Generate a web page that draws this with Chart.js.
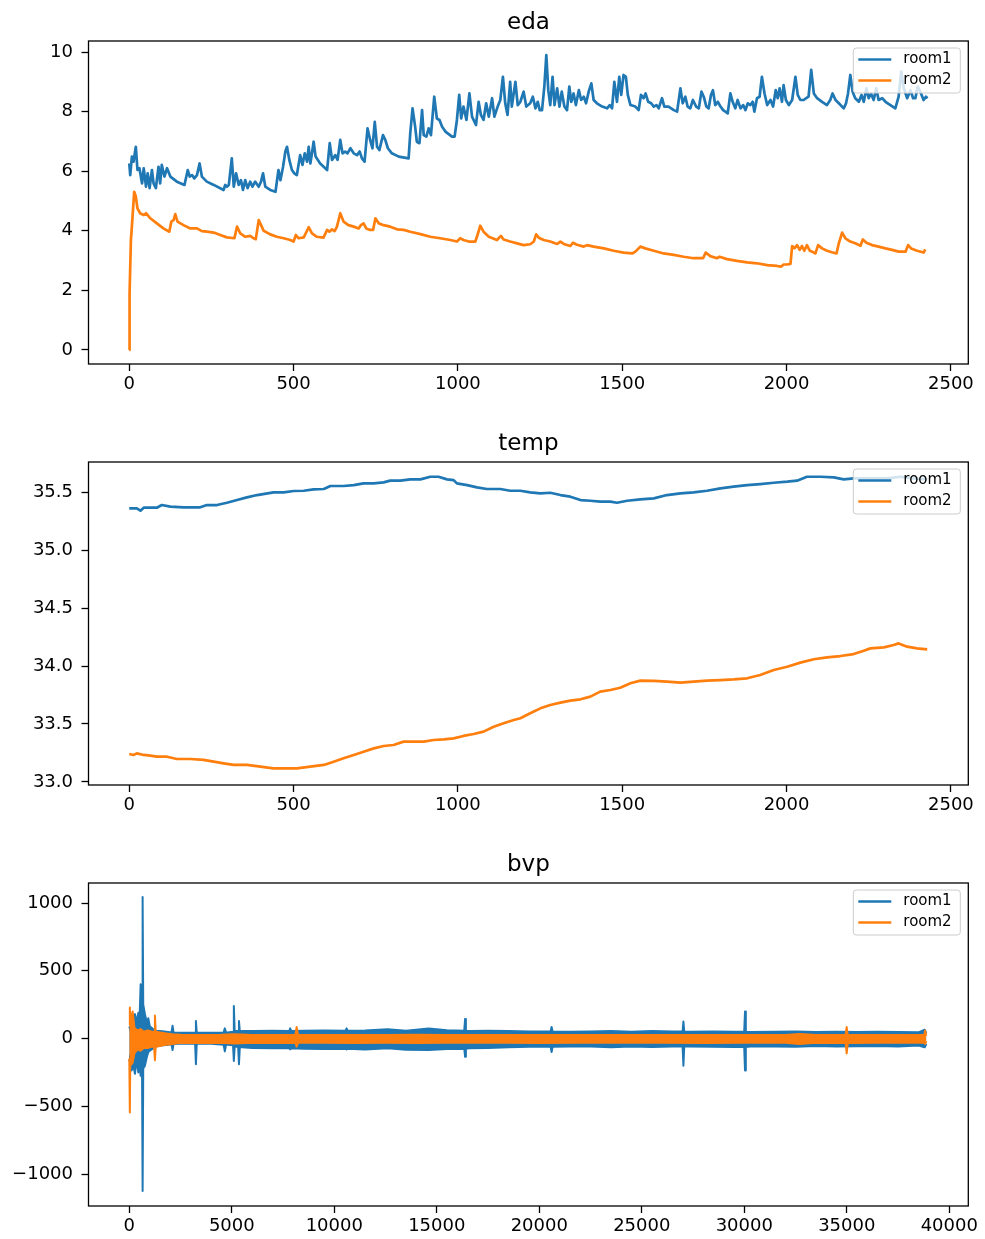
<!DOCTYPE html>
<html><head><meta charset="utf-8">
<script src="https://cdn.jsdelivr.net/npm/chart.js@4.4.1/dist/chart.umd.min.js"></script>
<style>
html,body{margin:0;padding:0;background:#fff;width:985px;height:1239px;overflow:hidden}
.box{position:absolute;left:0;width:985px;height:397px}
</style></head><body>
<div class="box" style="top:0"><canvas id="c1" width="985" height="397"></canvas></div>
<div class="box" style="top:421px"><canvas id="c2" width="985" height="397"></canvas></div>
<div class="box" style="top:842px"><canvas id="c3" width="985" height="397"></canvas></div>
<script>
// ---------------- data ----------------
const seriesNames = ['room1', 'room2'];
const chartTitles = ['eda', 'temp', 'bvp'];

const timeTicks = [0, 500, 1000, 1500, 2000, 2500];
const timeTickLabels = ['0', '500', '1000', '1500', '2000', '2500'];
const bvpTimeTicks = [0, 5000, 10000, 15000, 20000, 25000, 30000, 35000, 40000];
const bvpTimeTickLabels = ['0', '5000', '10000', '15000', '20000', '25000', '30000', '35000', '40000'];
const edaTicks = [0, 2, 4, 6, 8, 10];
const edaTickLabels = ['0', '2', '4', '6', '8', '10'];
const tempTicks = [33.0, 33.5, 34.0, 34.5, 35.0, 35.5];
const tempTickLabels = ['33.0', '33.5', '34.0', '34.5', '35.0', '35.5'];
const bvpTicks = [-1000, -500, 0, 500, 1000];
const bvpTickLabels = ['\u22121000', '\u2212500', '0', '500', '1000'];

// eda room1
const edaRoom1X = [0,3,8,13,20,25,31,39,44,51,56,62,69,74,81,89,94,99,107,115,125,145,168,178,184,191,198,206,214,221,236,257,287,292,297,303,312,318,325,333,340,346,353,360,368,375,383,394,401,407,414,429,445,454,460,468,475,480,487,495,502,510,520,527,534,541,546,551,556,561,567,581,602,610,617,627,634,642,649,657,664,673,683,693,701,708,716,725,733,740,747,754,761,772,779,787,799,820,850,855,862,870,875,883,891,896,904,911,918,928,936,944,952,962,982,990,997,1004,1010,1017,1026,1035,1043,1055,1063,1070,1078,1086,1094,1104,1111,1121,1129,1137,1144,1151,1159,1164,1175,1182,1190,1200,1208,1220,
1228,1236,1243,1249,1256,1263,1269,1275,1281,1288,1294,1302,1309,1316,1324,1332,1339,1345,1352,1359,1368,1375,1383,1390,1398,1406,1413,1423,1439,1454,1462,1469,1476,1484,1491,1497,1504,1511,1517,1525,1540,1550,1557,1565,1571,1579,1588,1596,1604,1611,1621,1628,1641,1657,1667,1677,1684,1692,1699,1707,1715,1725,1733,1741,1748,1756,1763,1770,1776,1783,1791,1799,1807,1814,1821,1829,1836,1844,1851,1860,1868,1875,1882,1890,1897,1902,1910,1918,1925,1933,1941,1951,1959,1967,1973,1979,1986,1991,1998,2007,2017,2027,2034,2042,2052,2060,2067,2075,2083,2093,2108,2123,2133,2140,2149,2159,2174,2181,2187,2194,2201,2209,2220,2228,2235,2243,2250,2257,2265,2273,2280,2291,2301,2316,2331,2341,2349,2357,2367,2377,2385,2392,2399,2407,2417,2424,2429];
const edaRoom1Y = [6.26,5.87,6.49,6.32,6.82,6.04,6.10,5.59,6.10,5.48,5.93,5.43,6.04,5.59,5.43,6.15,5.59,6.21,5.82,6.10,5.82,5.65,5.54,6.04,5.82,5.87,5.76,5.87,6.26,5.82,5.65,5.54,5.37,5.54,5.48,5.54,6.43,5.48,5.93,5.54,5.70,5.37,5.70,5.43,5.65,5.48,5.65,5.48,5.65,5.93,5.48,5.37,5.31,6.04,5.70,6.15,6.66,6.82,6.38,6.04,5.93,5.87,6.54,6.21,6.60,6.32,6.82,6.26,6.60,6.99,6.49,6.26,6.04,6.94,6.38,6.54,6.38,7.05,6.60,6.66,6.60,6.77,6.60,6.54,6.66,6.43,6.32,7.44,7.05,6.77,7.66,6.82,6.71,7.21,7.05,6.77,6.60,6.49,6.43,7.27,8.11,7.49,6.99,6.94,8.05,7.21,7.16,7.44,7.21,8.50,7.77,7.72,7.49,7.33,7.16,7.16,7.72,8.56,7.77,8.17,7.72,8.61,7.83,7.55,8.33,7.89,7.72,8.28,7.83,8.45,7.83,8.17,8.39,9.17,8.28,7.89,9.00,8.17,9.00,8.22,8.33,8.67,8.17,8.28,
8.50,8.11,8.33,8.05,8.05,8.84,9.90,8.72,8.22,9.17,8.22,8.78,8.17,8.67,8.17,8.05,8.84,8.33,8.61,8.22,8.72,8.39,8.50,8.28,8.67,8.95,8.39,8.28,8.17,8.11,8.22,8.11,9.00,8.33,9.17,8.56,9.23,9.17,8.56,8.22,8.17,8.05,8.56,8.45,8.61,8.33,8.28,8.17,8.22,8.11,8.45,8.17,8.17,8.05,8.00,8.78,8.28,8.50,8.17,8.11,8.39,8.17,8.11,8.67,8.50,8.17,8.11,8.56,8.72,8.22,8.33,8.17,8.05,8.00,7.94,8.61,8.33,8.11,8.39,8.11,8.22,8.05,8.28,8.22,8.33,8.00,8.45,8.50,9.17,8.61,8.22,8.39,8.17,8.72,8.45,8.78,8.33,8.89,8.39,8.22,8.39,9.17,8.56,8.39,8.39,8.45,8.50,9.40,8.61,8.45,8.33,8.22,8.39,8.61,8.39,8.28,8.11,8.28,8.61,9.23,8.67,8.45,8.33,8.56,8.33,8.78,8.45,8.61,8.39,8.78,8.39,8.45,8.33,8.22,8.11,8.50,9.34,8.78,8.45,8.72,8.45,8.45,8.84,8.67,8.39,8.50,8.45];

// eda room2
const edaRoom2X = [0,1,5,10,15,20,25,33,44,51,64,84,104,122,128,135,140,147,165,186,206,221,236,257,277,297,320,328,338,353,368,378,385,394,401,409,429,449,470,490,500,507,515,531,546,556,571,591,602,609,617,625,632,642,652,667,683,698,705,713,721,733,742,749,759,774,794,815,835,855,886,916,946,977,997,1007,1017,1033,1053,1058,1068,1078,1094,1119,1131,1139,1159,1180,1200,1220,
1231,1238,1246,1261,1281,1302,1312,1322,1342,1350,1362,1383,1393,1413,1444,1474,1504,1530,1540,1555,1570,1596,1626,1657,1687,1717,1746,1754,1768,1788,1796,1819,1849,1880,1910,1941,1971,1984,1991,2002,2012,2017,2024,2032,2040,2047,2054,2062,2071,2078,2088,2096,2108,2123,2138,2152,2159,2169,2179,2194,2209,2225,2232,2243,2260,2280,2301,2321,2341,2362,2370,2379,2397,2417,2422];
const edaRoom2Y = [0.00,1.90,3.69,4.47,5.31,5.15,4.75,4.59,4.53,4.59,4.42,4.25,4.08,3.97,4.31,4.36,4.56,4.31,4.19,4.08,4.08,3.99,3.97,3.94,3.86,3.78,3.75,4.14,3.91,3.80,3.83,3.75,3.72,4.36,4.19,4.00,3.88,3.80,3.75,3.69,3.64,3.86,3.75,3.78,4.12,3.91,3.80,3.77,4.03,3.97,4.05,3.99,4.14,4.59,4.31,4.19,4.14,4.08,4.19,4.25,4.08,4.03,4.03,4.42,4.25,4.19,4.14,4.05,4.03,3.97,3.89,3.80,3.75,3.69,3.64,3.75,3.69,3.64,3.64,3.80,4.17,3.97,3.80,3.69,3.83,3.71,3.64,3.58,3.52,3.55,
3.64,3.88,3.77,3.69,3.64,3.56,3.64,3.56,3.49,3.60,3.53,3.47,3.52,3.47,3.41,3.33,3.27,3.24,3.30,3.47,3.41,3.33,3.24,3.19,3.13,3.08,3.08,3.27,3.15,3.08,3.13,3.05,2.99,2.94,2.91,2.85,2.82,2.80,2.87,2.87,2.89,3.49,3.41,3.52,3.36,3.49,3.33,3.52,3.33,3.30,3.24,3.52,3.41,3.33,3.28,3.24,3.58,3.94,3.75,3.64,3.58,3.50,3.71,3.60,3.52,3.47,3.41,3.36,3.30,3.30,3.52,3.41,3.33,3.27,3.38];

// temp room1
const tempRoom1X = [0,23,34,44,84,99,125,165,216,236,267,297,328,358,389,439,470,500,531,561,592,612,652,683,713,744,774,794,825,855,886,916,941,967,987,997,1028,1058,1088,1129,1159,1190,
1220,1251,1281,1312,1342,1373,1403,1433,1464,1484,1515,1555,1596,1636,1677,1717,1758,1799,1839,1880,1920,1961,2002,2032,2062,2103,2144,2174,2204,2255,2306,2346,2387,2428];
const tempRoom1Y = [35.359,35.359,35.339,35.365,35.365,35.388,35.374,35.368,35.368,35.388,35.388,35.408,35.431,35.454,35.474,35.497,35.497,35.509,35.511,35.523,35.526,35.552,35.552,35.560,35.575,35.575,35.583,35.598,35.598,35.609,35.609,35.632,35.632,35.609,35.603,35.575,35.560,35.540,35.526,35.526,35.511,35.511,
35.497,35.489,35.494,35.474,35.460,35.431,35.425,35.417,35.417,35.408,35.425,35.437,35.445,35.474,35.489,35.497,35.511,35.532,35.546,35.560,35.569,35.580,35.589,35.598,35.632,35.632,35.626,35.609,35.618,35.618,35.618,35.632,35.618,35.609];

// temp room2
const tempRoom2X = [0,13,23,44,64,84,115,145,186,226,257,287,318,358,399,439,480,510,551,592,622,652,683,713,744,774,804,835,865,896,926,957,987,1017,1048,1078,1109,1139,1170,
1190,1220,1251,1281,1312,1342,1373,1403,1433,1464,1494,1525,1555,1596,1636,1677,1717,1758,1799,1839,1880,1920,1961,2002,2042,2083,2123,2164,2204,2235,2255,2296,2326,2341,2367,2397,2428];
const tempRoom2Y = [33.241,33.233,33.247,33.233,33.227,33.218,33.218,33.198,33.198,33.190,33.175,33.161,33.147,33.147,33.132,33.118,33.118,33.118,33.132,33.147,33.175,33.204,33.233,33.261,33.290,33.310,33.319,33.348,33.348,33.348,33.362,33.368,33.376,33.397,33.414,33.434,33.477,33.506,33.534,
33.549,33.592,33.635,33.664,33.684,33.701,33.713,33.736,33.779,33.793,33.813,33.851,33.874,33.871,33.865,33.856,33.865,33.874,33.879,33.885,33.894,33.922,33.966,33.994,34.029,34.058,34.075,34.086,34.103,34.132,34.152,34.161,34.181,34.195,34.167,34.152,34.144];

// bvp room1 (envelope of the dense signal: upper / lower)
const bvpRoom1X = [0,60,114,200,276,360,439,500,553,620,650,680,764,850,927,1000,1089,1250,1500,1800,2060,2110,2160,2300,2700,3100,3210,3250,3290,3400,4000,4600,4660,4720,4800,5060,5100,5140,5200,5310,5350,5390,5500,6000,7000,7800,7850,7900,8500,9500,10550,10600,10650,11500,12600,13500,14600,15500,16340,16380,16420,16600,17500,18500,19500,20550,20600,20650,21500,22500,23500,24500,25500,26500,26990,27030,27070,27300,28500,29500,29995,30035,30075,30300,31500,32500,33500,34500,35500,36500,37500,38500,38800,38880];
const bvpRoom1Upper = [90,60,130,150,180,120,190,140,400,300,1045,250,180,120,150,90,80,55,55,50,45,95,45,42,42,42,42,130,42,42,42,45,75,45,45,50,240,55,55,55,130,55,55,55,58,55,75,55,58,60,58,75,58,60,68,58,75,62,58,145,58,55,58,55,52,52,85,52,50,52,55,50,55,52,52,125,52,50,52,50,50,200,50,48,50,52,48,50,48,50,48,46,65,40];
const bvpRoom1Lower = [-170,-120,-235,-200,-260,-150,-250,-180,-275,-200,-1125,-220,-200,-140,-100,-90,-80,-60,-52,-48,-42,-85,-40,-38,-36,-38,-38,-190,-38,-36,-38,-45,-95,-45,-45,-50,-165,-60,-60,-60,-190,-65,-65,-70,-72,-72,-80,-72,-75,-78,-75,-80,-75,-80,-72,-82,-85,-78,-75,-135,-75,-72,-70,-65,-60,-60,-100,-60,-58,-58,-65,-58,-62,-58,-58,-200,-58,-58,-60,-62,-62,-235,-62,-58,-58,-60,-55,-58,-56,-55,-58,-52,-65,-40];

// bvp room2
const bvpRoom2X = [0,20,33,46,80,163,250,400,550,700,900,1100,1210,1250,1290,1500,1800,2100,2500,3500,4500,5100,6000,7000,8100,8163,8230,9500,11000,12500,14000,15500,17000,18500,20000,22000,24000,26000,28000,30000,32000,32700,33500,34940,34994,35050,36500,38000,38780,38820,38880];
const bvpRoom2Upper = [100,120,230,120,150,200,80,60,70,50,60,50,50,170,50,45,38,32,28,26,28,32,26,27,27,85,27,26,27,26,28,26,27,26,27,26,27,26,27,26,27,34,26,27,85,27,26,27,28,60,20];
const bvpRoom2Lower = [-150,-200,-545,-200,-200,-180,-110,-80,-90,-70,-70,-60,-60,-160,-60,-55,-45,-40,-32,-33,-32,-36,-31,-33,-31,-60,-32,-32,-33,-31,-33,-32,-32,-31,-33,-32,-31,-32,-33,-32,-32,-40,-32,-33,-110,-33,-31,-32,-32,-40,-20];

// ---------------- styling / drawing ----------------
const FONT = "'DejaVu Sans', 'Liberation Sans', sans-serif";
const BLUE = '#1f77b4', ORANGE = '#ff7f0e';

function pts(xs, ys) { return xs.map((x, i) => ({ x: x, y: ys[i] })); }

const mplFrame = {
  id: 'mplFrame',
  afterDatasetsDraw(chart) {
    const { ctx, chartArea: a } = chart;
    ctx.save();
    ctx.strokeStyle = '#000';
    ctx.lineWidth = 1.3;
    ctx.strokeRect(a.left, a.top, a.right - a.left, a.bottom - a.top);
    ctx.restore();
  }
};

const mplLegend = {
  id: 'mplLegend',
  afterDraw(chart) {
    const items = chart.data.datasets.filter(d => d.label);
    const { ctx, chartArea: a } = chart;
    const w = 107, h = 45, x = a.right - 8 - w, y = a.top + 7, r = 3;
    ctx.save();
    ctx.beginPath();
    ctx.moveTo(x + r, y);
    ctx.lineTo(x + w - r, y); ctx.quadraticCurveTo(x + w, y, x + w, y + r);
    ctx.lineTo(x + w, y + h - r); ctx.quadraticCurveTo(x + w, y + h, x + w - r, y + h);
    ctx.lineTo(x + r, y + h); ctx.quadraticCurveTo(x, y + h, x, y + h - r);
    ctx.lineTo(x, y + r); ctx.quadraticCurveTo(x, y, x + r, y);
    ctx.closePath();
    ctx.fillStyle = 'rgba(255,255,255,0.8)';
    ctx.fill();
    ctx.strokeStyle = '#cccccc';
    ctx.lineWidth = 1;
    ctx.stroke();
    items.forEach((d, i) => {
      const cy = y + 11.5 + i * 21;
      ctx.strokeStyle = d.borderColor;
      ctx.lineWidth = 2.5;
      ctx.beginPath(); ctx.moveTo(x + 5, cy); ctx.lineTo(x + 38, cy); ctx.stroke();
      ctx.fillStyle = '#000';
      ctx.font = '15px ' + FONT;
      ctx.textBaseline = 'middle';
      ctx.textAlign = 'left';
      ctx.fillText(d.label, x + 50, cy);
    });
    ctx.restore();
  }
};

function makeOptions(title, xr, yr, xt, xl, yt, yl) {
  return {
    responsive: false,
    animation: false,
    devicePixelRatio: 1,
    layout: { padding: { left: 0, right: 16.7, top: 0, bottom: 0 } },
    elements: { point: { radius: 0 }, line: { tension: 0, borderJoinStyle: 'round' } },
    plugins: {
      legend: { display: false },
      tooltip: { enabled: false },
      title: {
        display: true, text: title, fullSize: false, color: '#000',
        font: { family: FONT, size: 23, weight: 'normal' },
        padding: { top: 9, bottom: 4.4 }
      }
    },
    scales: {
      x: {
        type: 'linear', min: xr[0], max: xr[1],
        afterBuildTicks: s => { s.ticks = xt.map(v => ({ value: v })); },
        afterFit: s => { s.height = 33; },
        ticks: { callback: (v, i) => xl[i], color: '#000', font: { family: FONT, size: 18 }, padding: 3, maxRotation: 0, autoSkip: false },
        grid: { drawOnChartArea: false, drawTicks: true, tickLength: 7, tickColor: '#000', tickWidth: 1.3 },
        border: { display: false }
      },
      y: {
        type: 'linear', min: yr[0], max: yr[1],
        afterBuildTicks: s => { s.ticks = yt.map(v => ({ value: v })); },
        afterFit: s => { s.width = 88.5; },
        ticks: { callback: (v, i) => yl[i], color: '#000', font: { family: FONT, size: 18 }, padding: 8.5, autoSkip: false },
        grid: { drawOnChartArea: false, drawTicks: true, tickLength: 7, tickColor: '#000', tickWidth: 1.3 },
        border: { display: false }
      }
    }
  };
}

function lineDs(label, color, xs, ys, order) {
  return { label: label, data: pts(xs, ys), borderColor: color, backgroundColor: color, borderWidth: 2.7, pointRadius: 0, fill: false, order: order };
}

new Chart(document.getElementById('c1'), {
  type: 'line',
  data: { datasets: [
    lineDs(seriesNames[0], BLUE, edaRoom1X, edaRoom1Y, 2),
    lineDs(seriesNames[1], ORANGE, edaRoom2X, edaRoom2Y, 1)
  ] },
  options: makeOptions(chartTitles[0], [-124, 2553], [-0.47, 10.37], timeTicks, timeTickLabels, edaTicks, edaTickLabels),
  plugins: [mplFrame, mplLegend]
});

new Chart(document.getElementById('c2'), {
  type: 'line',
  data: { datasets: [
    lineDs(seriesNames[0], BLUE, tempRoom1X, tempRoom1Y, 2),
    lineDs(seriesNames[1], ORANGE, tempRoom2X, tempRoom2Y, 1)
  ] },
  options: makeOptions(chartTitles[1], [-124, 2553], [32.974, 35.759], timeTicks, timeTickLabels, tempTicks, tempTickLabels),
  plugins: [mplFrame, mplLegend]
});

function bandDs(label, color, xs, ys, order, fill) {
  return { label: label, data: pts(xs, ys), borderColor: color, backgroundColor: color, borderWidth: 2, pointRadius: 0, fill: fill, order: order };
}

new Chart(document.getElementById('c3'), {
  type: 'line',
  data: { datasets: [
    bandDs(seriesNames[0], BLUE, bvpRoom1X, bvpRoom1Upper, 2, '+1'),
    bandDs(undefined, BLUE, bvpRoom1X, bvpRoom1Lower, 2, false),
    bandDs(seriesNames[1], ORANGE, bvpRoom2X, bvpRoom2Upper, 1, '+1'),
    bandDs(undefined, ORANGE, bvpRoom2X, bvpRoom2Lower, 1, false)
  ] },
  options: makeOptions(chartTitles[2], [-1990, 40927], [-1236, 1148], bvpTimeTicks, bvpTimeTickLabels, bvpTicks, bvpTickLabels),
  plugins: [mplFrame, mplLegend]
});
</script>
</body></html>
